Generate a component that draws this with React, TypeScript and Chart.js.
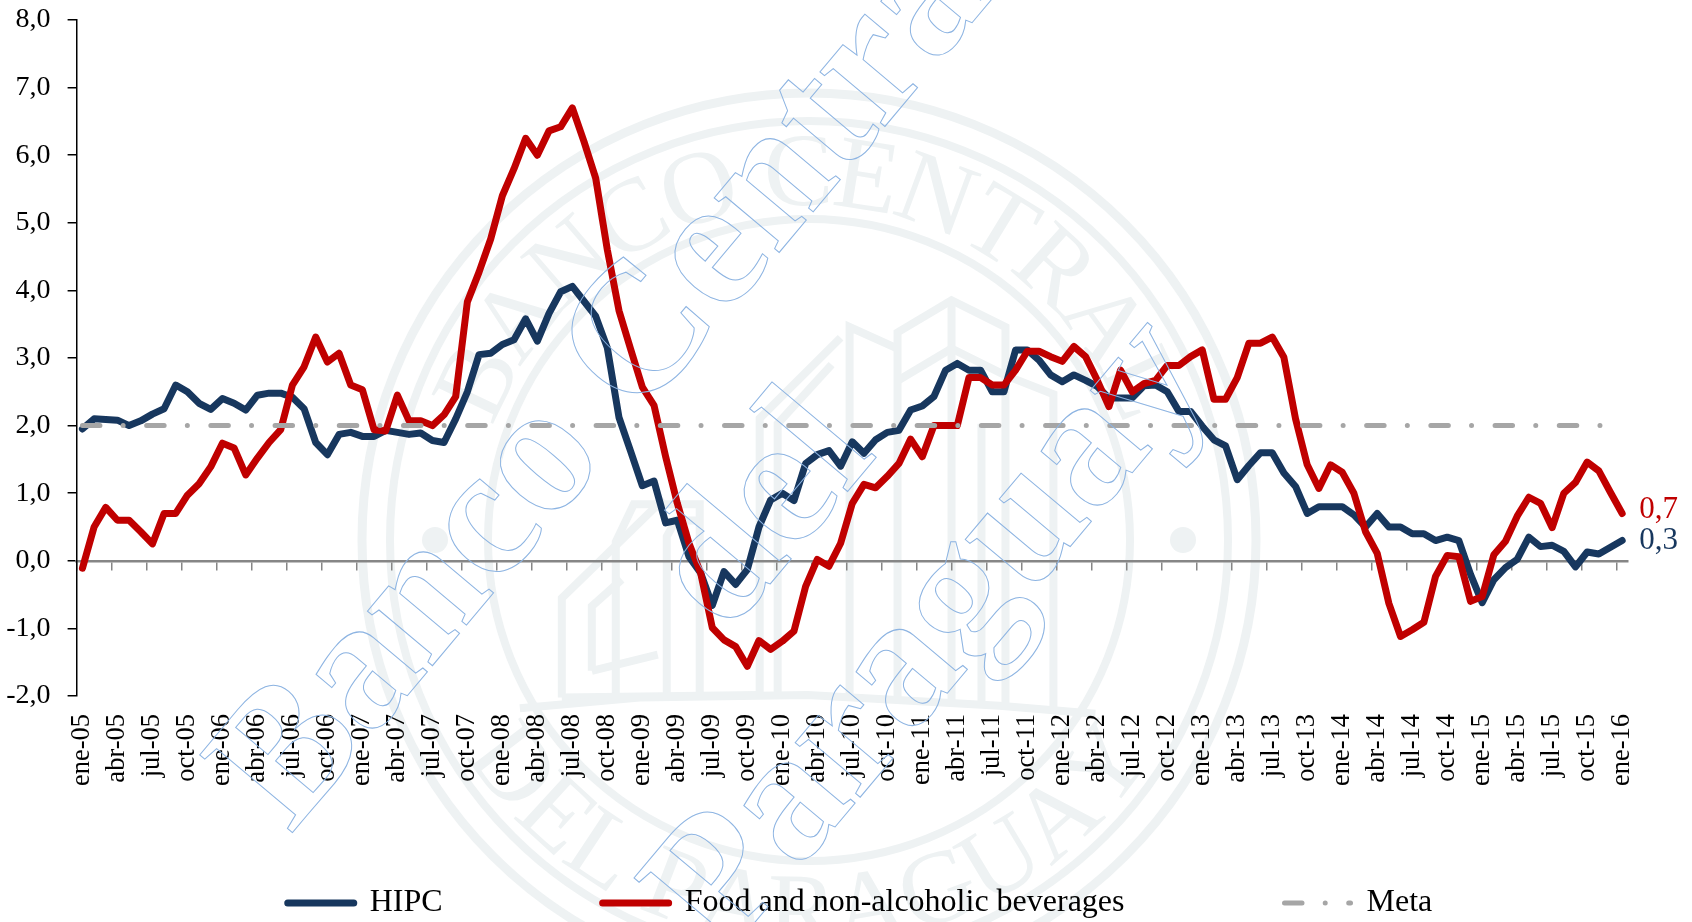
import React, { useEffect, useRef } from "react";
import { Chart, registerables } from "chart.js";

Chart.register(...registerables);

const monthNames = ["ene", "feb", "mar", "abr", "may", "jun", "jul", "ago", "sep", "oct", "nov", "dic"];
const years = ["05", "06", "07", "08", "09", "10", "11", "12", "13", "14", "15"];
const categories = [...years.flatMap((y) => monthNames.map((m) => `${m}-${y}`)), "ene-16"];

const hipc = [
  1.95, 2.1, 2.09, 2.08, 2.0, 2.07, 2.17, 2.25, 2.6, 2.5,
  2.33, 2.24, 2.4, 2.33, 2.23, 2.45, 2.48, 2.48, 2.42, 2.25,
  1.75, 1.57, 1.87, 1.9, 1.84, 1.84, 1.93, 1.9, 1.87, 1.89,
  1.78, 1.75, 2.1, 2.5, 3.05, 3.07, 3.2, 3.27, 3.58, 3.25,
  3.66, 3.98, 4.06, 3.84, 3.62, 3.15, 2.12, 1.62, 1.11, 1.18,
  0.56, 0.6, 0.06, -0.18, -0.66, -0.16, -0.35, -0.13, 0.5, 0.9,
  1.0, 0.89, 1.44, 1.57, 1.63, 1.4, 1.76, 1.59, 1.79, 1.9,
  1.93, 2.23, 2.29, 2.43, 2.82, 2.92, 2.82, 2.82, 2.5, 2.5,
  3.12, 3.12, 2.97, 2.75, 2.65, 2.75, 2.67, 2.58, 2.41, 2.41,
  2.41, 2.59, 2.6, 2.5, 2.21, 2.21, 1.99, 1.79, 1.7, 1.2,
  1.41, 1.6, 1.6, 1.3, 1.1, 0.7, 0.8, 0.8, 0.8, 0.68,
  0.5, 0.7, 0.5, 0.5, 0.4, 0.4, 0.3, 0.35, 0.3, -0.2,
  -0.62, -0.28, -0.1, 0.02, 0.35, 0.21, 0.23, 0.14, -0.09, 0.13,
  0.1, 0.2, 0.3,
];

const food = [
  -0.11, 0.5, 0.79, 0.6, 0.6, 0.43, 0.25, 0.7, 0.7, 0.97,
  1.14, 1.39, 1.74, 1.67, 1.27, 1.52, 1.75, 1.94, 2.6, 2.87,
  3.31, 2.94, 3.07, 2.6, 2.53, 1.94, 1.92, 2.45, 2.07, 2.07,
  2.0, 2.16, 2.43, 3.83, 4.27, 4.76, 5.4, 5.8, 6.25, 6.0,
  6.36, 6.42, 6.7, 6.2, 5.66, 4.6, 3.7, 3.13, 2.57, 2.3,
  1.54, 0.85, 0.26, -0.18, -0.99, -1.17, -1.27, -1.56, -1.18, -1.31,
  -1.19, -1.04, -0.38, 0.02, -0.08, 0.26, 0.85, 1.13, 1.08, 1.25,
  1.44, 1.8, 1.54, 2.0, 2.0, 2.0, 2.71, 2.71, 2.6, 2.6,
  2.82, 3.1, 3.1, 3.02, 2.95, 3.17, 3.02, 2.67, 2.28, 2.82,
  2.5, 2.62, 2.67, 2.89, 2.89, 3.02, 3.12, 2.39, 2.39, 2.71,
  3.22, 3.22, 3.31, 3.01, 2.1, 1.42, 1.07, 1.42, 1.31, 1.0,
  0.43, 0.11, -0.63, -1.12, -1.02, -0.91, -0.23, 0.08, 0.06, -0.6,
  -0.53, 0.09, 0.29, 0.66, 0.94, 0.85, 0.49, 1.0, 1.16, 1.46,
  1.33, 1.01, 0.7,
];

const META_VALUE = 2;
const meta = categories.map(() => META_VALUE);

const BLUE = "#17375E";
const RED = "#C00000";
const GRAY = "#A6A6A6";
const SEAL = "#EEF2F3";
const OUTLINE = "#8DB4E2";
const SERIF = "'Liberation Serif', serif";
const META_DASH = [17.5, 23.2, 0.01, 23.5];

function arcText(ctx: CanvasRenderingContext2D, text: string, cx: number, cy: number, r: number, a0: number, a1: number, top: boolean) {
  const widths = [...text].map((c) => ctx.measureText(c).width);
  const total = widths.reduce((a, b) => a + b, 0);
  const k = (a1 - a0) / total;
  let acc = 0;
  [...text].forEach((c, i) => {
    const mid = a0 + (acc + widths[i] / 2) * k;
    acc += widths[i];
    ctx.save();
    if (top) {
      ctx.translate(cx + r * Math.sin(mid), cy - r * Math.cos(mid));
      ctx.rotate(mid);
    } else {
      ctx.translate(cx + r * Math.sin(mid), cy + r * Math.cos(mid));
      ctx.rotate(-mid);
    }
    ctx.fillText(c, 0, 0);
    ctx.restore();
  });
}

const buildingPaths: number[][][] = [
  [[930, 1150], [930, 470], [1020, 410], [1110, 460], [1110, 1165]],
  [[1020, 410], [1020, 1160]],
  [[930, 560], [1020, 500], [1110, 550]],
  [[850, 1150], [850, 460], [930, 500]],
  [[835, 480], [700, 630], [700, 1150]],
  [[820, 530], [730, 640], [730, 1150]],
  [[1110, 550], [1190, 585], [1190, 1170]],
  [[1070, 640], [1070, 1160]],
  [[460, 1150], [460, 860], [490, 790], [600, 790], [600, 1150]],
  [[545, 1150], [545, 850], [560, 820], [600, 820]],
  [[370, 1150], [370, 965], [540, 780]],
  [[420, 1100], [420, 980], [470, 930]],
  [[420, 1100], [530, 1070]],
  [[370, 1150], [700, 1145]],
  [[300, 1170], [500, 1150], [780, 1145], [1100, 1165], [1260, 1180]],
];

const sealPlugin = {
  id: "seal",
  beforeDraw(chart: any) {
    const ctx = chart.ctx as CanvasRenderingContext2D;
    const cx = 809;
    const cy = 540;
    ctx.save();
    ctx.fillStyle = "#fff";
    ctx.fillRect(0, 0, chart.width, chart.height);
    ctx.strokeStyle = SEAL;
    ctx.fillStyle = SEAL;
    [[447, 9], [419, 8], [321, 8]].forEach(([r, w]) => {
      ctx.lineWidth = w;
      ctx.beginPath();
      ctx.arc(cx, cy, r, 0, Math.PI * 2);
      ctx.stroke();
    });
    [-374, 374].forEach((dx) => {
      ctx.beginPath();
      ctx.arc(cx + dx, cy, 13, 0, Math.PI * 2);
      ctx.fill();
    });
    ctx.font = `104px ${SERIF}`;
    ctx.textAlign = "center";
    ctx.textBaseline = "alphabetic";
    const d = Math.PI / 180;
    arcText(ctx, "BANCO CENTRAL", cx, cy, 335, -70 * d, 70 * d, true);
    arcText(ctx, "DEL PARAGUAY", cx, cy, 405, -58 * d, 58 * d, false);
    ctx.lineWidth = 8;
    ctx.lineJoin = "miter";
    buildingPaths.forEach((path) => {
      ctx.beginPath();
      path.forEach(([x, y], i) => {
        const px = 340 + x / 1.668;
        const py = 80 + y / 1.862;
        if (i === 0) ctx.moveTo(px, py);
        else ctx.lineTo(px, py);
      });
      ctx.stroke();
    });
    ctx.restore();
  },
  afterDraw(chart: any) {
    const ctx = chart.ctx as CanvasRenderingContext2D;
    ctx.save();
    ctx.translate(796, 553);
    ctx.rotate((-50 * Math.PI) / 180);
    ctx.font = `bold 185px ${SERIF}`;
    ctx.textAlign = "center";
    ctx.textBaseline = "alphabetic";
    ctx.strokeStyle = OUTLINE;
    ctx.lineWidth = 1;
    ctx.strokeText("Banco Central", 32, -206);
    ctx.strokeText("del", 10, 0);
    ctx.strokeText("Paraguay", 24, 206);
    ctx.restore();
  },
};

const endLabelPlugin = {
  id: "endLabels",
  afterDatasetsDraw(chart: any) {
    const ctx = chart.ctx as CanvasRenderingContext2D;
    ctx.save();
    ctx.font = `31px ${SERIF}`;
    ctx.textAlign = "left";
    ctx.textBaseline = "middle";
    [0, 1].forEach((di) => {
      const ds = chart.data.datasets[di];
      const pts = chart.getDatasetMeta(di).data;
      const last = pts[pts.length - 1];
      const value = ds.data[ds.data.length - 1];
      ctx.fillStyle = ds.borderColor;
      ctx.fillText(value.toFixed(1).replace(".", ","), last.x + 17, last.y + (di === 1 ? -4 : 0));
    });
    ctx.restore();
  },
};

export default function App() {
  const ref = useRef<HTMLCanvasElement>(null);
  useEffect(() => {
    document.body.style.margin = "0";
    const chart = new Chart(ref.current as HTMLCanvasElement, {
      type: "line",
      plugins: [sealPlugin, endLabelPlugin],
      data: {
        labels: categories,
        datasets: [
          { label: "HIPC", data: hipc, borderColor: BLUE, backgroundColor: BLUE, borderWidth: 7, order: 3, xAxisID: "x", yAxisID: "y" },
          { label: "Food and non-alcoholic beverages", data: food, borderColor: RED, backgroundColor: RED, borderWidth: 7, order: 2, xAxisID: "x", yAxisID: "y" },
          { label: "Meta", data: meta, borderColor: GRAY, backgroundColor: GRAY, borderWidth: 5, borderDash: META_DASH, order: 1, xAxisID: "x", yAxisID: "y" },
        ],
      },
      options: {
        responsive: false,
        animation: false,
        layout: { padding: { left: 28, right: 0, top: 20, bottom: 0 } },
        elements: {
          point: { radius: 0, hoverRadius: 0 },
          line: { tension: 0, borderCapStyle: "round", borderJoinStyle: "round", fill: false },
        },
        plugins: {
          tooltip: { enabled: false },
          title: { display: false },
          legend: {
            position: "bottom",
            maxHeight: 195,
            labels: {
              usePointStyle: true,
              pointStyleWidth: 66,
              padding: 160,
              color: "#000",
              font: { family: SERIF, size: 32 },
              generateLabels: (c: any) =>
                c.data.datasets.map((d: any, i: number) => ({
                  text: d.label,
                  strokeStyle: d.borderColor,
                  fillStyle: d.borderColor,
                  lineWidth: d.borderWidth,
                  lineCap: "round",
                  lineDash: d.borderDash || [],
                  pointStyle: "line",
                  datasetIndex: i,
                  hidden: false,
                })),
            },
          },
        },
        scales: {
          x: {
            type: "category",
            position: "bottom",
            offset: true,
            border: { display: false },
            grid: { display: false, drawTicks: false },
            afterFit: (s: any) => {
              s.height = 31;
              s.paddingLeft = 0;
              s.paddingRight = 0;
              s._computeLabelArea = () => undefined;
            },
            ticks: {
              autoSkip: false,
              minRotation: 90,
              maxRotation: 90,
              padding: 18,
              color: "#000",
              font: { family: SERIF, size: 26.5 },
              callback: (_v: any, i: number) => (i % 3 === 0 ? categories[i] : ""),
            },
          },
          x2: {
            type: "linear",
            axis: "x",
            position: { y: 0 },
            min: 0,
            max: 133,
            border: { color: "#868686", width: 2.5 },
            grid: { drawOnChartArea: false, drawTicks: true, color: "#868686", lineWidth: 1.5, tickLength: 8 },
            afterFit: (s: any) => {
              s.height = 0;
              s.paddingLeft = 0;
              s.paddingRight = 0;
            },
            ticks: { display: false, stepSize: 3, autoSkip: false, includeBounds: false },
          },
          y: {
            position: "left",
            min: -2,
            max: 8,
            border: { color: "#000", width: 1.5 },
            grid: { drawOnChartArea: false, color: "#000", lineWidth: 1.5, tickLength: 9 },
            afterFit: (s: any) => {
              s.width = 48.6;
              s.paddingTop = 0;
              s.paddingBottom = 0;
              s._computeLabelArea = () => undefined;
            },
            ticks: {
              stepSize: 1,
              padding: 17,
              color: "#000",
              font: { family: SERIF, size: 28 },
              callback: (v: any) => Number(v).toFixed(1).replace(".", ","),
            },
          },
          y2: {
            position: "right",
            min: 0,
            max: 1,
            border: { display: false },
            grid: { display: false },
            ticks: { display: false },
            afterFit: (s: any) => {
              s.width = 64;
              s.paddingTop = 0;
              s.paddingBottom = 0;
            },
          },
        },
      },
    } as any);
    return () => chart.destroy();
  }, []);
  return <canvas ref={ref} width={1692} height={922} style={{ display: "block" }} />;
}
